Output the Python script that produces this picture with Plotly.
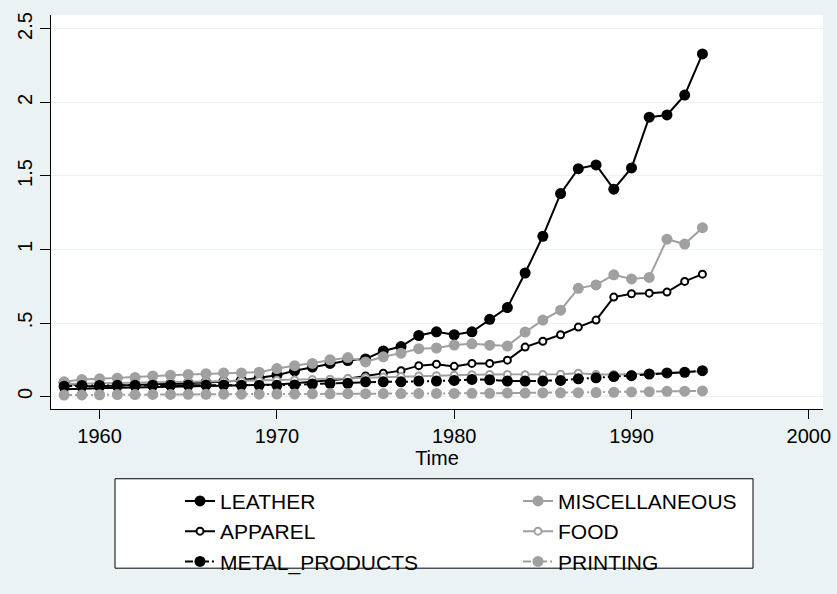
import plotly.graph_objects as go

years = list(range(1958, 1995))

leather = [0.095, 0.070, 0.070, 0.075, 0.078, 0.080, 0.085, 0.090, 0.095, 0.100,
           0.110, 0.125, 0.145, 0.175, 0.200, 0.225, 0.245, 0.255, 0.310, 0.340,
           0.415, 0.440, 0.420, 0.440, 0.525, 0.605, 0.840, 1.090, 1.380, 1.550,
           1.575, 1.410, 1.555, 1.900, 1.915, 2.050, 2.330]
miscellaneous = [0.100, 0.115, 0.120, 0.125, 0.130, 0.140, 0.145, 0.150, 0.155, 0.160,
                 0.160, 0.165, 0.190, 0.210, 0.225, 0.250, 0.265, 0.235, 0.270, 0.295,
                 0.325, 0.330, 0.350, 0.358, 0.349, 0.343, 0.438, 0.520, 0.587, 0.736,
                 0.759, 0.828, 0.800, 0.810, 1.070, 1.037, 1.148]
apparel = [0.050, 0.055, 0.058, 0.060, 0.062, 0.064, 0.066, 0.068, 0.070, 0.072,
           0.075, 0.078, 0.082, 0.090, 0.100, 0.110, 0.120, 0.140, 0.158, 0.176,
           0.210, 0.220, 0.205, 0.225, 0.225, 0.247, 0.336, 0.376, 0.420, 0.472,
           0.520, 0.676, 0.699, 0.703, 0.710, 0.783, 0.832]
food = [0.085, 0.088, 0.090, 0.092, 0.094, 0.096, 0.098, 0.100, 0.102, 0.104,
        0.106, 0.108, 0.110, 0.112, 0.115, 0.118, 0.122, 0.128, 0.132, 0.136,
        0.140, 0.142, 0.145, 0.148, 0.150, 0.150, 0.148, 0.150, 0.152, 0.158,
        0.150, 0.150, 0.152, 0.155, 0.160, 0.165, 0.172]
metal_products = [0.070, 0.075, 0.075, 0.076, 0.076, 0.077, 0.077, 0.078, 0.078, 0.078,
                  0.076, 0.076, 0.076, 0.078, 0.085, 0.090, 0.090, 0.100, 0.100, 0.100,
                  0.105, 0.105, 0.109, 0.116, 0.114, 0.105, 0.105, 0.106, 0.109, 0.120,
                  0.127, 0.136, 0.142, 0.153, 0.160, 0.165, 0.176]
printing = [0.010, 0.011, 0.012, 0.013, 0.013, 0.014, 0.014, 0.015, 0.015, 0.016,
            0.016, 0.016, 0.017, 0.017, 0.018, 0.018, 0.019, 0.019, 0.020, 0.020,
            0.020, 0.021, 0.021, 0.022, 0.022, 0.023, 0.023, 0.024, 0.025, 0.026,
            0.027, 0.029, 0.031, 0.033, 0.035, 0.036, 0.038]

y_tickvals = [0, 0.5, 1, 1.5, 2, 2.5]
y_ticktext = ["0", ".5", "1", "1.5", "2", "2.5"]
x_tickvals = [1960, 1970, 1980, 1990, 2000]

BLACK = "#000000"
GRAY = "#a0a0a0"
DASHDOT = "8px,3px,2px,3px"

# (name, values, colour, dash, marker kind, legend column)
series = [
    ("LEATHER", leather, BLACK, "solid", "big", "legend"),
    ("MISCELLANEOUS", miscellaneous, GRAY, "solid", "big", "legend2"),
    ("APPAREL", apparel, BLACK, "solid", "small", "legend"),
    ("FOOD", food, GRAY, "solid", "small", "legend2"),
    ("METAL_PRODUCTS", metal_products, BLACK, DASHDOT, "big", "legend"),
    ("PRINTING", printing, GRAY, DASHDOT, "big", "legend2"),
]

fig = go.Figure()
for i, (name, vals, col, dash, kind, leg) in enumerate(series):
    if kind == "big":
        marker = dict(size=11, color=col, line=dict(width=0))
    else:
        marker = dict(size=7, color="white", line=dict(width=2, color=col))
    fig.add_trace(go.Scatter(
        x=years, y=vals, name=name, mode="lines+markers",
        line=dict(color=col, width=2, dash=dash),
        marker=marker,
        legend=leg,
        legendrank=i + 1,
    ))

# plot area in page pixels: x 51..823, y 15..416
L, R, T, B = 51, 14, 15, 178
W, H = 837, 594
pw, ph = W - L - R, H - T - B


def px_x(p):
    return (p - L) / pw


def px_y(p):
    return (H - B - p) / ph


legend_common = dict(
    orientation="v",
    yanchor="top", xanchor="left",
    bgcolor="rgba(0,0,0,0)",
    borderwidth=0,
    font=dict(size=21),
    traceorder="normal",
)

fig.update_layout(
    width=W, height=H,
    paper_bgcolor="#eaf2f3",
    plot_bgcolor="white",
    margin=dict(l=L, r=R, t=T, b=B),
    font=dict(family="Liberation Sans, Arial, sans-serif", size=20, color="black"),
    showlegend=True,
    legend=dict(x=px_x(180), y=px_y(489), **legend_common),
    legend2=dict(x=px_x(518), y=px_y(489), **legend_common),
    shapes=[dict(
        type="rect", xref="paper", yref="paper",
        x0=px_x(115), x1=px_x(753), y0=px_y(578), y1=px_y(487),
        fillcolor="white", line=dict(color="black", width=1), layer="below",
    )],
)

fig.update_xaxes(
    range=[1957.26, 2000.8],
    tickvals=x_tickvals,
    ticks="outside", ticklen=9, tickwidth=1.3, tickcolor="black",
    showline=True, linecolor="black", linewidth=1.3,
    showgrid=False, zeroline=False,
    title=dict(text="Time", standoff=0, font=dict(size=20)),
    tickfont=dict(size=20),
    automargin=False,
)
fig.update_yaxes(
    range=[-0.085, 2.595],
    tickvals=y_tickvals, ticktext=y_ticktext,
    tickangle=-90,
    ticks="outside", ticklen=10, tickwidth=1.3, tickcolor="black",
    showline=True, linecolor="black", linewidth=1.3,
    showgrid=True, gridcolor="#eaf2f3", gridwidth=1.3,
    zeroline=False,
    tickfont=dict(size=20),
    automargin=False,
)

fig.write_html(
    "out.html",
    config={"displayModeBar": False},
    post_script="document.body.style.margin='0';document.body.style.padding='0';",
)
